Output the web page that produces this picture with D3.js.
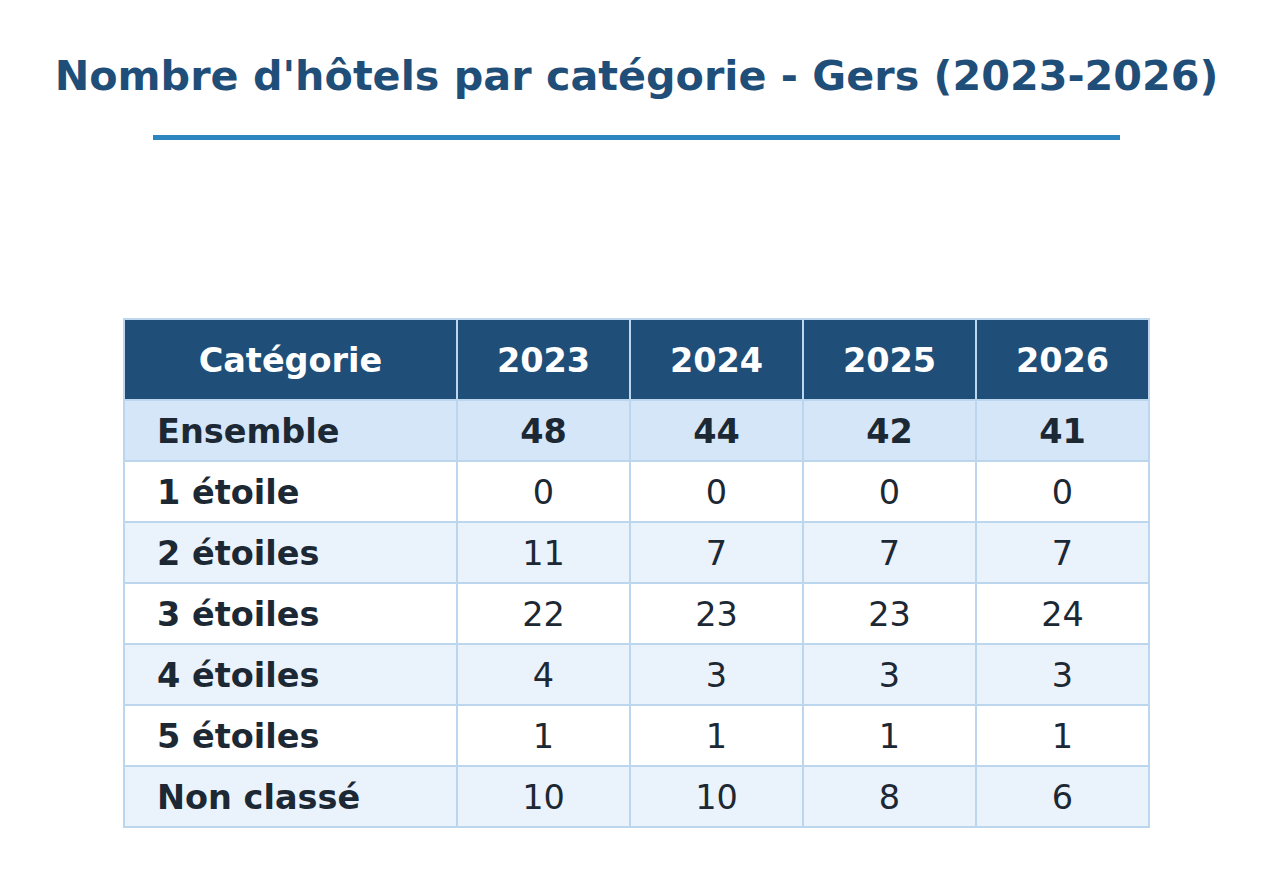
<!DOCTYPE html>
<html><head><meta charset="utf-8">
<script src="https://cdn.jsdelivr.net/npm/d3@7"></script>
<style>body{margin:0;background:#fff;font-family:"DejaVu Sans",sans-serif;}</style>
</head><body>
<svg id="c" width="1273" height="882"></svg>
<script>
const title = "Nombre d'hôtels par catégorie - Gers (2023-2026)";
const headerLabel = "Catégorie";
const years = ["2023","2024","2025","2026"];
const categories = ["Ensemble","1 étoile","2 étoiles","3 étoiles","4 étoiles","5 étoiles","Non classé"];
const v2023 = [48,0,11,22,4,1,10];
const v2024 = [44,0,7,23,3,1,10];
const v2025 = [42,0,7,23,3,1,8];
const v2026 = [41,0,7,24,3,1,6];
const series = [v2023,v2024,v2025,v2026];

(function(){
const svg = d3.select("#c");
svg.append("text").attr("x",636.5).attr("y",90).attr("text-anchor","middle")
  .attr("font-size",41.3).attr("font-weight","bold").attr("fill","#1f4e79").text(title);
svg.append("rect").attr("x",153).attr("y",135).attr("width",967).attr("height",5).attr("fill","#2e86c1");

const tLeft=124, firstW=333, colW=173, tTop=319, headH=81, rowH=61, fs=33.5, dy=12;
const colX = d3.scaleLinear().domain([0,1]).range([tLeft+firstW, tLeft+firstW+colW]);
const rowY = d3.scaleLinear().domain([0,1]).range([tTop+headH, tTop+headH+rowH]);
const border = "#bcd6ee";
const g = svg.append("g");
g.append("rect").attr("x",tLeft).attr("y",tTop).attr("width",firstW).attr("height",headH).attr("fill","#1f4e79").attr("stroke",border).attr("stroke-width",2);
g.append("text").attr("x",tLeft+firstW/2).attr("y",tTop+headH/2+dy).attr("text-anchor","middle").attr("font-size",fs).attr("font-weight","bold").attr("fill","#fff").text(headerLabel);
years.forEach((y,i)=>{
  g.append("rect").attr("x",colX(i)).attr("y",tTop).attr("width",colW).attr("height",headH).attr("fill","#1f4e79").attr("stroke",border).attr("stroke-width",2);
  g.append("text").attr("x",colX(i)+colW/2).attr("y",tTop+headH/2+dy).attr("text-anchor","middle").attr("font-size",fs).attr("font-weight","bold").attr("fill","#fff").text(y);
});
categories.forEach((c,r)=>{
  const bg = r===0 ? "#d4e6f8" : (r%2===0 ? "#eaf2fb" : "#ffffff");
  const y0 = rowY(r);
  g.append("rect").attr("x",tLeft).attr("y",y0).attr("width",firstW).attr("height",rowH).attr("fill",bg).attr("stroke",border).attr("stroke-width",2);
  g.append("text").attr("x",tLeft+33).attr("y",y0+rowH/2+dy).attr("font-size",fs).attr("font-weight","bold").attr("fill","#1c2833").text(c);
  series.forEach((s,i)=>{
    g.append("rect").attr("x",colX(i)).attr("y",y0).attr("width",colW).attr("height",rowH).attr("fill",bg).attr("stroke",border).attr("stroke-width",2);
    g.append("text").attr("x",colX(i)+colW/2).attr("y",y0+rowH/2+dy).attr("text-anchor","middle").attr("font-size",fs).attr("font-weight",r===0?"bold":"normal").attr("fill","#1c2833").text(s[r]);
  });
});
})();
</script>
</body></html>
